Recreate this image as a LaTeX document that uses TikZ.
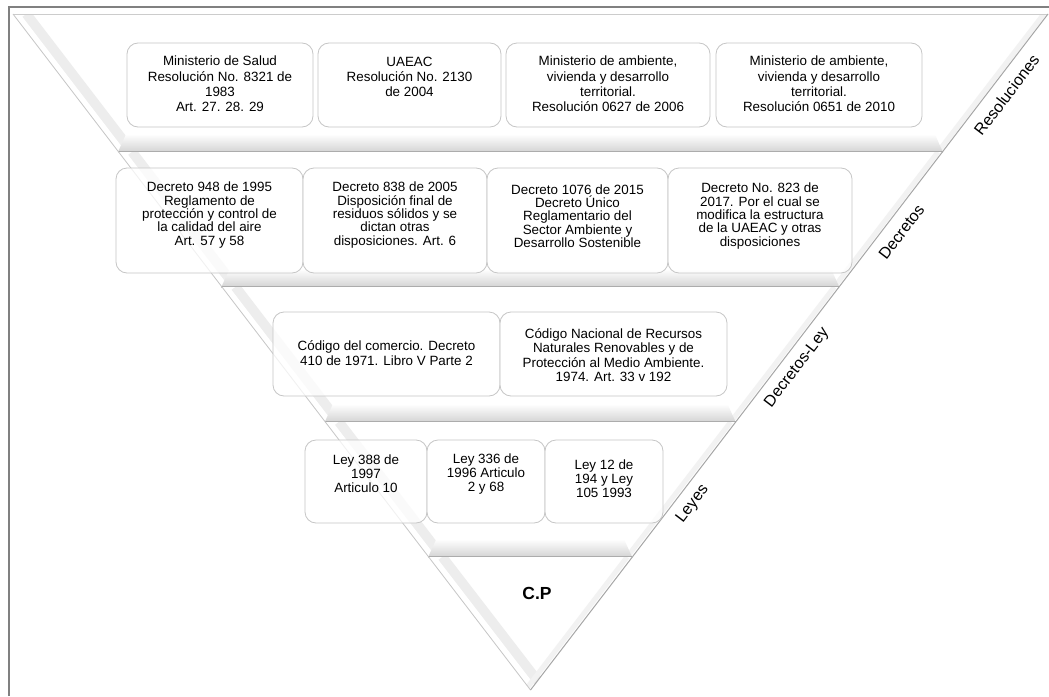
\documentclass[tikz,border=0pt]{standalone}
\usepackage{fontspec}
\setmainfont{Liberation Sans}
\usetikzlibrary{calc}
\newcommand\XL[1]{13+(#1-15)*0.766}
\newcommand\XR[1]{1048-(#1-15)*0.7674}
\tikzset{
  boxst/.style={draw=gray!45, line width=0.8pt, rounded corners=11pt, fill=white, fill opacity=0.75, inner sep=0pt},
  txt/.style={align=center, inner sep=0pt, text=black},
  rowA/.style={txt, font=\fontsize{13.4}{15.2}\selectfont},
  rowB/.style={txt, font=\fontsize{13.4}{13.3}\selectfont},
  rowC/.style={txt, font=\fontsize{13.4}{14.5}\selectfont},
  rowD/.style={txt, font=\fontsize{13.4}{14}\selectfont},
  lab/.style={font=\fontsize{16}{18}\selectfont, rotate=52.6, inner sep=0pt, text=black},
}
\newcommand\bandclip[2]{({\XL{#1}},#1) -- ({\XR{#1}},#1) -- ({\XR{#2}},#2) -- ({\XL{#2}},#2) -- cycle}
\newcommand\band[2]{%
  \fill[white] \bandclip{#1}{#2};
  \begin{scope}
    \clip \bandclip{#1}{#2};
    \draw[gray!14, line width=10pt] ({\XL{#1}+14},#1) -- ({\XL{#2}+14},#2);
    \draw[white, line width=3pt] ({\XL{#1}+6},#1) -- ({\XL{#2}+6},#2);
    \draw[gray!10, line width=5pt] ({\XR{#1}-5},#1) -- ({\XR{#2}-5},#2);
  \end{scope}
  \shade[top color=white, bottom color=gray!34] ({\XL{#2-18}+22},{#2-18}) -- ({\XR{#2-18}-22},{#2-18}) -- ({\XR{#2}},#2) -- ({\XL{#2}},#2) -- cycle;
  \draw[gray!65, line width=1.3pt] ({\XL{#2}},#2) -- ({\XR{#2}},#2);
}
\begin{document}
\begin{tikzpicture}[x=1pt, y=-1pt]
\useasboundingbox (0,0) rectangle (1049,696);
\fill[white] (0,0) rectangle (1049,696);
% frame
\draw[gray, line width=2pt] (8.5,696) -- (8.5,7) -- (1049,7);
% bands
\band{14}{152}
\band{152}{287}
\band{287}{422}
\band{422}{557}
\fill[white] ({\XL{557}},557) -- ({\XR{557}},557) -- (530.5,690) -- cycle;
\begin{scope}
  \clip ({\XL{557}},557) -- ({\XR{557}},557) -- (530.5,690) -- cycle;
  \draw[gray!14, line width=10pt] ({\XL{557}+14},557) -- (544.5,690);
  \draw[white, line width=3pt] ({\XL{557}+6},557) -- (536.5,690);
  \draw[gray!10, line width=5pt] ({\XR{557}-5},557) -- (525.5,690);
\end{scope}
% edges
\coordinate (TL) at (13,14);
\coordinate (TR) at (1048,14);
\coordinate (AP) at (530.5,690);
\draw[gray!40, line width=0.8pt] (TL) -- (TR);
\draw[gray!45, line width=0.8pt] (TL) -- (AP);
\draw[gray!70, line width=1pt] (TR) -- (AP);
% row 1
\node[boxst, minimum width=186pt, minimum height=84pt] (b11) at (220,85) {};
\node[boxst, minimum width=183pt, minimum height=84pt] (b12) at (409.5,85) {};
\node[boxst, minimum width=204pt, minimum height=84pt] (b13) at (608,85) {};
\node[boxst, minimum width=206pt, minimum height=84pt] (b14) at (819,85) {};
\node[rowA] (t11) at (220,84) {Ministerio de Salud\\Resolución No. 8321 de\\1983\\Art. 27. 28. 29};
\node[rowA] (t12) at (409.5,77) {UAEAC\\Resolución No. 2130\\de 2004};
\node[rowA] (t13) at (608,84) {Ministerio de ambiente,\\vivienda y desarrollo\\territorial.\\Resolución 0627 de 2006};
\node[rowA] (t14) at (819,84) {Ministerio de ambiente,\\vivienda y desarrollo\\territorial.\\Resolución 0651 de 2010};
% row 2
\node[boxst, minimum width=187pt, minimum height=105pt] (b21) at (209.5,220.5) {};
\node[boxst, minimum width=184pt, minimum height=105pt] (b22) at (395,220.5) {};
\node[boxst, minimum width=181pt, minimum height=105pt] (b23) at (577.5,220.5) {};
\node[boxst, minimum width=184pt, minimum height=105pt] (b24) at (760,220.5) {};
\node[rowB] (t21) at (209.5,215) {Decreto 948 de 1995\\Reglamento de\\protección y control de\\la calidad del aire\\Art. 57 y 58};
\node[rowB] (t22) at (395,215) {Decreto 838 de 2005\\Disposición final de\\residuos sólidos y se\\dictan otras\\disposiciones. Art. 6};
\node[rowB] (t23) at (577.5,216) {Decreto 1076 de 2015\\Decreto Único\\Reglamentario del\\Sector Ambiente y\\Desarrollo Sostenible};
\node[rowB] (t24) at (760,216) {Decreto No. 823 de\\2017. Por el cual se\\modifica la estructura\\de la UAEAC y otras\\disposiciones};
% row 3
\node[boxst, minimum width=227pt, minimum height=84pt] (b31) at (386.5,354) {};
\node[boxst, minimum width=227pt, minimum height=84pt] (b32) at (613.5,354) {};
\node[rowC] (t31) at (386.5,353) {Código del comercio. Decreto\\410 de 1971. Libro V Parte 2};
\node[rowC] (t32) at (613.5,355) {Código Nacional de Recursos\\Naturales Renovables y de\\Protección al Medio Ambiente.\\1974. Art. 33 v 192};
% row 4
\node[boxst, minimum width=122pt, minimum height=83pt] (b41) at (366,481.5) {};
\node[boxst, minimum width=118pt, minimum height=83pt] (b42) at (486,481.5) {};
\node[boxst, minimum width=118pt, minimum height=83pt] (b43) at (604,481.5) {};
\node[rowD] (t41) at (366,474) {Ley 388 de\\1997\\Articulo 10};
\node[rowD] (t42) at (486,474) {Ley 336 de\\1996 Articulo\\2 y 68};
\node[rowD] (t43) at (604,479) {Ley 12 de\\194 y Ley\\105 1993};
% apex
\node[font=\fontsize{17.5}{20}\selectfont\bfseries, inner sep=0pt] (cp) at (537,593) {C.P};
% labels
\node[lab] (lres) at ({\XR{95}+20},95) {Resoluciones};
\node[lab] (ldec) at ({\XR{232}+20},232) {Decretos};
\node[lab] (ldl) at ({\XR{368}+20},368) {Decretos-Ley};
\node[lab] (lley) at ({\XR{504}+20},504) {Leyes};
\end{tikzpicture}
\end{document}
